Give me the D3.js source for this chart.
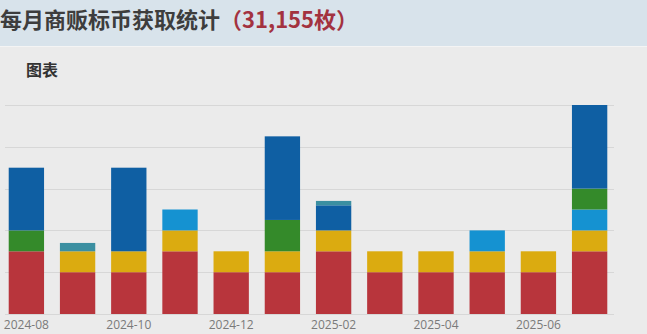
<!DOCTYPE html>
<html lang="zh">
<head>
  <meta charset="UTF-8">
  <title>每月商贩标币获取统计</title>
  <style>
    body { margin: 0; background: #ebebeb; overflow: hidden; }
    svg { display: block; font-family: "Noto Sans CJK SC", "Noto Sans", sans-serif; }
  </style>
</head>
<body>
  <script src="https://cdn.jsdelivr.net/npm/d3@7"></script>
  <script type="text/javascript">
    // 月份
    var months = ["2024-08", "2024-09", "2024-10", "2024-11", "2024-12", "2025-01",
                  "2025-02", "2025-03", "2025-04", "2025-05", "2025-06", "2025-07"];
    // 各来源每月获取的标币数（按堆叠顺序，自下而上）
    var redVals    = [1500, 1000, 1000, 1500, 1000, 1000, 1500, 1000, 1000, 1000, 1000, 1500];
    var yellowVals = [0, 500, 500, 500, 500, 500, 500, 500, 500, 500, 500, 500];
    var skyVals    = [0, 0, 0, 500, 0, 0, 0, 0, 0, 500, 0, 500];
    var greenVals  = [500, 0, 0, 0, 0, 750, 0, 0, 0, 0, 0, 500];
    var blueVals   = [1500, 0, 2000, 0, 0, 2000, 600, 0, 0, 0, 0, 2000];
    var tealVals   = [0, 200, 0, 0, 0, 0, 105, 0, 0, 0, 0, 0];
    var tickLabels = ["2024-08", "2024-10", "2024-12", "2025-02", "2025-04", "2025-06"];
    var yTicks = [0, 1000, 2000, 3000, 4000, 5000];

    var keys = ["red", "yellow", "sky", "green", "blue", "teal"];
    var colors = ["#b8353c", "#dbab10", "#1592d1", "#348a2a", "#0f5fa3", "#3b8fa1"];
    var series = [redVals, yellowVals, skyVals, greenVals, blueVals, tealVals];

    var rows = months.map(function(m, i) {
      var r = { month: m };
      keys.forEach(function(k, j) { r[k] = series[j][i]; });
      return r;
    });
    var total = d3.sum(series, function(s) { return d3.sum(s); });

    var width = 647, height = 334;
    var svg = d3.select("body").append("svg")
      .attr("width", width)
      .attr("height", height);

    // 标题栏
    svg.append("rect").attr("x", 0).attr("y", 0).attr("width", width).attr("height", 46)
      .attr("fill", "#d8e3eb");
    svg.append("line").attr("x1", 0).attr("x2", width).attr("y1", 46.5).attr("y2", 46.5)
      .attr("stroke", "#f4f4f4").attr("stroke-width", 1);

    var title = svg.append("text")
      .attr("x", 0)
      .attr("y", 28)
      .attr("font-size", "22px")
      .attr("font-weight", "bold")
      .attr("fill", "#3d3d3d");
    title.append("tspan").text("每月商贩标币获取统计");
    title.append("tspan").attr("fill", "#a3323f").text("（" + d3.format(",")(total) + "枚）");

    svg.append("text")
      .attr("x", 26)
      .attr("y", 76)
      .attr("font-size", "16px")
      .attr("font-weight", "bold")
      .attr("fill", "#333")
      .text("图表");

    // 比例尺
    var x = d3.scaleBand()
      .domain(months)
      .range([-0.5, 616.5])
      .paddingInner(0.31)
      .paddingOuter(0.18);

    var y = d3.scaleLinear()
      .domain([0, 5000])
      .range([314, 105]);

    // 网格线
    svg.append("g").selectAll("line")
      .data(yTicks)
      .enter()
      .append("line")
      .attr("x1", 5)
      .attr("x2", 614)
      .attr("y1", function(d) { return Math.round(y(d)) + 0.5; })
      .attr("y2", function(d) { return Math.round(y(d)) + 0.5; })
      .attr("stroke", "#d7d7d7")
      .attr("stroke-width", 1);

    // 堆叠柱
    var stacked = d3.stack().keys(keys)(rows);
    svg.append("g").selectAll("g")
      .data(stacked)
      .enter()
      .append("g")
      .attr("fill", function(d, i) { return colors[i]; })
      .selectAll("rect")
      .data(function(d) { return d.filter(function(p) { return p[1] > p[0]; }); })
      .enter()
      .append("rect")
      .attr("x", function(d) { return x(d.data.month); })
      .attr("y", function(d) { return y(d[1]); })
      .attr("width", x.bandwidth())
      .attr("height", function(d) { return y(d[0]) - y(d[1]); });

    // x 轴标签
    var xAxis = d3.axisBottom(x)
      .tickValues(tickLabels)
      .tickSize(0)
      .tickPadding(6);
    var gx = svg.append("g")
      .attr("transform", "translate(0,314)")
      .call(xAxis);
    gx.select(".domain").remove();
    gx.selectAll("text")
      .attr("font-size", "12px")
      .attr("font-family", "'Open Sans', 'Noto Sans', sans-serif")
      .attr("fill", "#7a7a7a");
  </script>
</body>
</html>
